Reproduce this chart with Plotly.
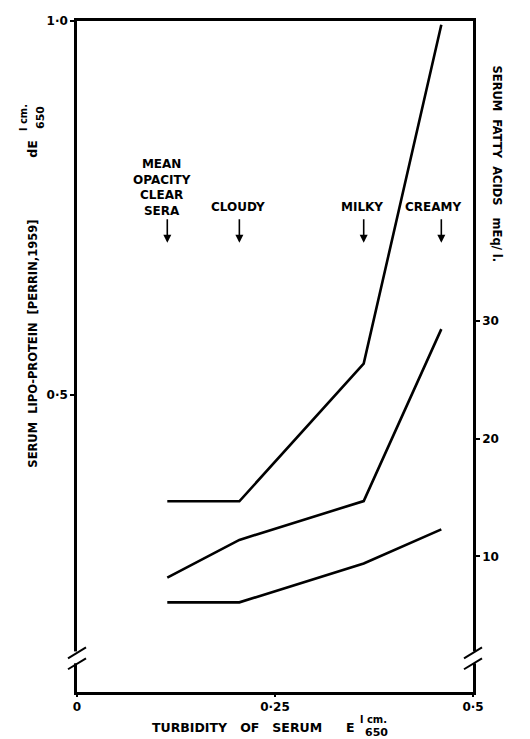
import plotly.graph_objects as go

# ---- data ----
turbidity = [0.114, 0.205, 0.362, 0.460]          # clear, cloudy, milky, creamy
lipo_protein = [0.358, 0.358, 0.542, 0.995]       # left axis, dE 650
fatty_acids_upper = [8.2, 11.4, 14.7, 29.3]       # right axis, mEq/l
fatty_acids_lower = [6.1, 6.1, 9.4, 12.3]         # right axis, mEq/l
marker_labels = ["MEAN<br>OPACITY<br>CLEAR<br>SERA", "CLOUDY", "MILKY", "CREAMY"]
x_ticks = [0, 0.25, 0.5]
x_ticklabels = ["0", "0·25", "0·5"]
y_ticks = [0.5, 1.0]
y_ticklabels = ["0·5", "1·0"]
y2_ticks = [10, 20, 30]
y2_ticklabels = ["10", "20", "30"]

# page has an 8px body margin -> figure is offset by 8px
OFF = 8
W, H = 530 - OFF, 739 - OFF
L, R, T, B = 77, 473, 14, 692          # plot frame in screenshot pixels
FONT = "DejaVu Sans"

def px(x):
    return (x - L) / (R - L)

def py(y):
    return (B - y) / (B - T)

fig = go.Figure()
line_style = dict(color="black", width=2.6)
fig.add_trace(go.Scatter(x=turbidity, y=lipo_protein, mode="lines", line=line_style, yaxis="y"))
fig.add_trace(go.Scatter(x=turbidity, y=fatty_acids_upper, mode="lines", line=line_style, yaxis="y2"))
fig.add_trace(go.Scatter(x=turbidity, y=fatty_acids_lower, mode="lines", line=line_style, yaxis="y2"))

tickfont = dict(family=FONT, size=12, color="black")
fig.update_layout(
    width=W, height=H,
    margin=dict(l=L - OFF, r=W - (R - OFF), t=T - OFF, b=H - (B - OFF)),
    plot_bgcolor="white", paper_bgcolor="white",
    showlegend=False,
    font=dict(family=FONT, size=12, color="black"),
    xaxis=dict(range=[0, 0.5], showline=True, linecolor="black", linewidth=2.6, mirror=True,
               showgrid=False, zeroline=False, tickvals=x_ticks,
               ticktext=["<b>%s</b>" % t for t in x_ticklabels],
               ticks="outside", ticklen=2, tickwidth=1.5, tickcolor="black", tickfont=tickfont),
    yaxis=dict(range=[0.103, 1.0], showline=True, linecolor="black", linewidth=2.6,
               showgrid=False, zeroline=False, tickvals=y_ticks,
               ticktext=["<b>%s</b>" % t for t in y_ticklabels],
               ticks="outside", ticklen=4, tickwidth=1.5, tickcolor="black", tickfont=tickfont),
    yaxis2=dict(range=[30 - (B - 317) / 11.9, 30 + (317 - T) / 11.9], overlaying="y", side="right",
                showline=True, linecolor="black", linewidth=2.6, showgrid=False, zeroline=False,
                tickvals=y2_ticks, ticktext=["<b>%s</b>" % t for t in y2_ticklabels],
                ticks="outside", ticklen=4, tickwidth=1.5, tickcolor="black", tickfont=tickfont),
)

ann = []

def text(xp, yp, s, size=12, angle=0):
    ann.append(dict(x=xp, y=yp, xref="paper", yref="paper", showarrow=False, text="<b>%s</b>" % s,
                    textangle=angle, xanchor="center", yanchor="middle",
                    font=dict(family=FONT, size=size, color="black")))

# category labels (text placement in screenshot pixels) with arrows at the data positions
label_x = [162, 238, 362, 433]
label_y = [182, 202, 202, 202]
for lx, ly, lab in zip(label_x, label_y, marker_labels):
    text(px(lx), py(ly), lab, 12)
for xv in turbidity:
    ann.append(dict(x=xv, xref="x", y=py(238), yref="paper", ax=0, ay=-25, text="",
                    showarrow=True, arrowhead=2, arrowsize=1, arrowwidth=1.6, arrowcolor="black"))

# x axis title
text(px(237), py(728), "TURBIDITY   OF   SERUM", 12.5)
text(px(350), py(728), "E", 12.5)
text(px(373), py(720), "l cm.", 10)
text(px(376), py(733), "650", 11)

# left title (rotated)
text(px(33), py(340), "SERUM  LIPO-PROTEIN  [PERRIN,1959]", 11.5, -90)
text(px(33), py(143), "dE", 12.5, -90)
text(px(24), py(112), "l cm.", 10, -90)
text(px(41), py(112), "650", 11, -90)

# right title (rotated)
text(px(497), py(158), "SERUM  FATTY  ACIDS   mEq/ l.", 11.5, 90)

fig.update_layout(annotations=ann)

# axis breaks
shapes = []
for xc in (L, R):
    shapes.append(dict(type="rect", xref="paper", yref="paper", x0=px(xc - 4), x1=px(xc + 4),
                       y0=py(663), y1=py(651), fillcolor="white", line=dict(width=0), layer="above"))
    for dy in (0, 11):
        shapes.append(dict(type="line", xref="paper", yref="paper", x0=px(xc - 9), y0=py(658 + dy),
                           x1=px(xc + 9), y1=py(647 + dy), line=dict(color="black", width=2), layer="above"))
fig.update_layout(shapes=shapes)

fig.write_html("out.html")
